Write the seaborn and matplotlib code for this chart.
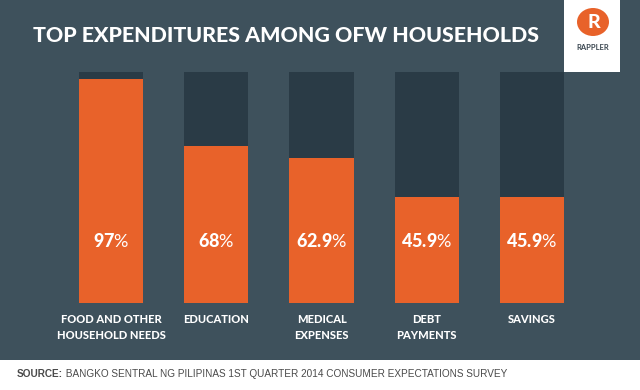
import matplotlib
matplotlib.use("Agg")
import matplotlib.pyplot as plt
import matplotlib.patches as patches
import seaborn as sns
import pandas as pd

# data
categories = ["FOOD AND OTHER\nHOUSEHOLD NEEDS", "EDUCATION", "MEDICAL\nEXPENSES",
              "DEBT\nPAYMENTS", "SAVINGS"]
values = [97, 68, 62.9, 45.9, 45.9]
value_labels = ["97", "68", "62.9", "45.9", "45.9"]
full_scale = [100, 100, 100, 100, 100]

title = "TOP EXPENDITURES AMONG OFW HOUSEHOLDS"
source_head = "SOURCE:"
source_body = " BANGKO SENTRAL NG PILIPINAS 1ST QUARTER 2014 CONSUMER EXPECTATIONS SURVEY"

BG = "#3e515c"
DARK = "#2a3b46"
ORANGE = "#e8622a"
SRC_FONT = ["Liberation Sans Narrow", "Liberation Sans"]

sns.set_theme(style="white")
plt.rcParams["font.family"] = ["Lato", "DejaVu Sans"]
# bold number, regular percent sign in one text
plt.rcParams["mathtext.fontset"] = "custom"
plt.rcParams["mathtext.bf"] = "Lato:black"
plt.rcParams["mathtext.rm"] = "Lato"

df = pd.DataFrame({"category": categories, "value": values, "full": full_scale})

fig = plt.figure(figsize=(6.4, 3.9), dpi=100, facecolor=BG)
ax = fig.add_axes([58.4 / 640, 87 / 390, 526.2 / 640, 231 / 390])
ax.set_facecolor(BG)

sns.barplot(data=df, x="category", y="full", color=DARK, saturation=1,
            width=0.61, linewidth=0, edgecolor="none", ax=ax)
sns.barplot(data=df, x="category", y="value", color=ORANGE, saturation=1,
            width=0.61, linewidth=0, edgecolor="none", ax=ax)

ax.set_ylim(0, 100)
ax.set_xlim(-0.5, len(categories) - 0.5)
ax.set_xlabel("")
ax.set_ylabel("")
ax.set_yticks([])
sns.despine(ax=ax, left=True, bottom=True)
ax.tick_params(axis="x", length=0, pad=8)
for lbl in ax.get_xticklabels():
    lbl.set_color("white")
    lbl.set_fontsize(8)
    lbl.set_fontweight("black")
    lbl.set_linespacing(1.5)

for i, lab in enumerate(value_labels):
    ax.text(i, 27, r"$\mathbf{" + lab + "}$%", ha="center", va="center",
            color="white", fontsize=13)

# title
fig.text(33 / 640, 1 - 36 / 390, title, ha="left", va="center", color="white",
         fontsize=15.4, fontweight="black")

# logo box
fig.patches.append(patches.Rectangle((564 / 640, 1 - 72 / 390), 56 / 640, 72 / 390,
                                     transform=fig.transFigure, facecolor="white",
                                     edgecolor="none"))
fig.patches.append(patches.Ellipse((593 / 640, 1 - 22 / 390), 32 / 640, 28 / 390,
                                   transform=fig.transFigure, facecolor=ORANGE,
                                   edgecolor="none"))
fig.text(594 / 640, 1 - 22 / 390, "R", ha="center", va="center", color="white",
         fontsize=14, fontweight="black")
fig.text(593 / 640, 1 - 47 / 390, "RAPPLER", ha="center", va="center",
         color="#3a4650", fontsize=5.5, fontweight="bold")

# footer
fig.patches.append(patches.Rectangle((0, 0), 1, 30 / 390, transform=fig.transFigure,
                                     facecolor="white", edgecolor="none"))
s = fig.text(17 / 640, 16 / 390, source_head, ha="left", va="center",
             color="#4a4a4a", fontsize=7.2, fontweight="bold", family=SRC_FONT)
fig.canvas.draw()
head_w = s.get_window_extent().width
fig.text(17 / 640 + head_w / 640, 16 / 390, source_body, ha="left", va="center",
         color="#4a4a4a", fontsize=7.2, family=SRC_FONT)

fig.savefig("out.png", dpi=100, facecolor=BG)
